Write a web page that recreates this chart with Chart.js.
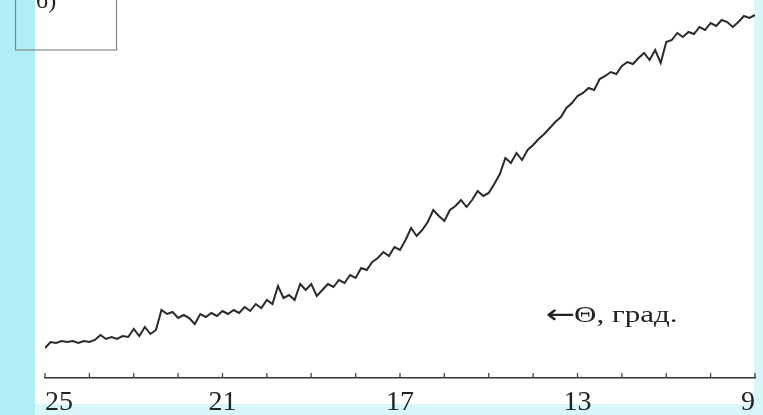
<!DOCTYPE html>
<html>
<head>
<meta charset="utf-8">
<script src="https://cdn.jsdelivr.net/npm/chart.js@4.4.1/dist/chart.umd.min.js"></script>
<style>
  body { margin: 0; background: #d8f7fa; }
  canvas { display: block; }
</style>
</head>
<body>
<canvas id="XY" width="763" height="415"></canvas>
<script>
// угол (град.), шаг 0.125 от 25 до 9
var thetaStart = 25;
var thetaStep = 0.125;
// интенсивность, отн. ед.
var intensidad = [
  30, 36, 35, 37, 36, 37, 35, 37, 36, 38,
  43, 39, 41, 39, 42, 41, 49, 42, 51, 44,
  48, 68, 64, 66, 60, 63, 60, 54, 64, 61,
  65, 62, 67, 64, 68, 65, 71, 67, 74, 70,
  78, 74, 92, 80, 83, 78, 94, 88, 94, 82,
  88, 94, 91, 98, 95, 103, 100, 110, 108, 116,
  120, 126, 122, 131, 128, 138, 150, 142, 148, 156,
  168, 162, 157, 168, 172, 178, 171, 178, 187, 182,
  185, 194, 204, 220, 215, 225, 218, 228, 233, 239,
  244, 250, 256, 261, 270, 275, 282, 285, 290, 288,
  299, 302, 306, 304, 312, 316, 314, 320, 325, 318,
  328, 315, 336, 338, 345, 341, 346, 344, 351, 348,
  355, 352, 358, 356, 351, 356, 362, 360, 363
];
var etiquetas = [9, 13, 17, 21, 25];
var marcas = [25, 24, 23, 22, 21, 20, 19, 18, 17, 16, 15, 14, 13, 12, 11, 10, 9];
var titulo = "б)";
var flecha = "←";
var ejeTexto = "Θ, град.";

var puntos = [];
for (var i = 0; i < intensidad.length; i++) {
  puntos.push({ x: thetaStart - i * thetaStep, y: intensidad[i] });
}

const fondo = {
  id: 'fondo',
  beforeDraw(chart) {
    const c = chart.ctx;
    c.save();
    c.fillStyle = '#d8f7fa';
    c.fillRect(0, 0, chart.width, chart.height);
    c.fillStyle = '#aeeff6';
    c.fillRect(0, 0, 35, chart.height);
    c.fillStyle = '#ffffff';
    c.fillRect(35, 0, 719, 404);
    c.restore();
  },
  afterDraw(chart) {
    const c = chart.ctx;
    const xs = chart.scales.x;
    const base = chart.chartArea.bottom;
    c.save();
    // marcas pequeñas hacia arriba
    c.strokeStyle = '#444';
    c.lineWidth = 1.3;
    marcas.forEach(function (m) {
      const px = xs.getPixelForValue(m);
      c.beginPath();
      c.moveTo(px, base);
      c.lineTo(px, base - 5);
      c.stroke();
    });
    // recuadro con la letra
    c.strokeStyle = '#888';
    c.lineWidth = 1.2;
    c.strokeRect(15.5, -5, 101, 55);
    c.fillStyle = '#222';
    c.font = '24px "Liberation Serif"';
    c.textBaseline = 'alphabetic';
    c.fillText(titulo, 36, 8);
    // texto del eje (estirado en horizontal como en el original)
    c.translate(546, 0);
    c.scale(1.35, 1);
    c.font = '26px "DejaVu Sans"';
    c.fillText(flecha, 0, 323);
    const w = c.measureText(flecha).width;
    c.font = '23px "Liberation Serif"';
    c.fillText(ejeTexto, w - 1, 322);
    c.restore();
  }
};

var ctx = document.getElementById("XY").getContext("2d");
var grafico = new Chart(ctx, {
  type: "line",
  data: {
    datasets: [{
      data: puntos,
      borderColor: '#2a2a2a',
      borderWidth: 2,
      pointRadius: 0,
      tension: 0,
      fill: false
    }]
  },
  options: {
    responsive: false,
    animation: false,
    layout: { padding: { left: 45, right: 8, top: 0, bottom: 3 } },
    plugins: { legend: { display: false }, tooltip: { enabled: false } },
    scales: {
      x: {
        type: 'linear',
        reverse: true,
        min: 9,
        max: 25,
        grid: { display: false, drawTicks: false, tickLength: 0 },
        border: { display: true, color: '#333', width: 1.5 },
        afterBuildTicks: function (s) {
          s.ticks = etiquetas.map(function (v) { return { value: v }; });
        },
        afterFit: function (s) { s.height = 34; },
        ticks: {
          align: 'inner',
          padding: 11,
          maxRotation: 0,
          color: '#222',
          font: { family: '"Liberation Serif"', size: 28, lineHeight: 1 }
        }
      },
      y: {
        display: false,
        min: 0,
        max: 378
      }
    }
  },
  plugins: [fondo]
});
</script>
</body>
</html>
